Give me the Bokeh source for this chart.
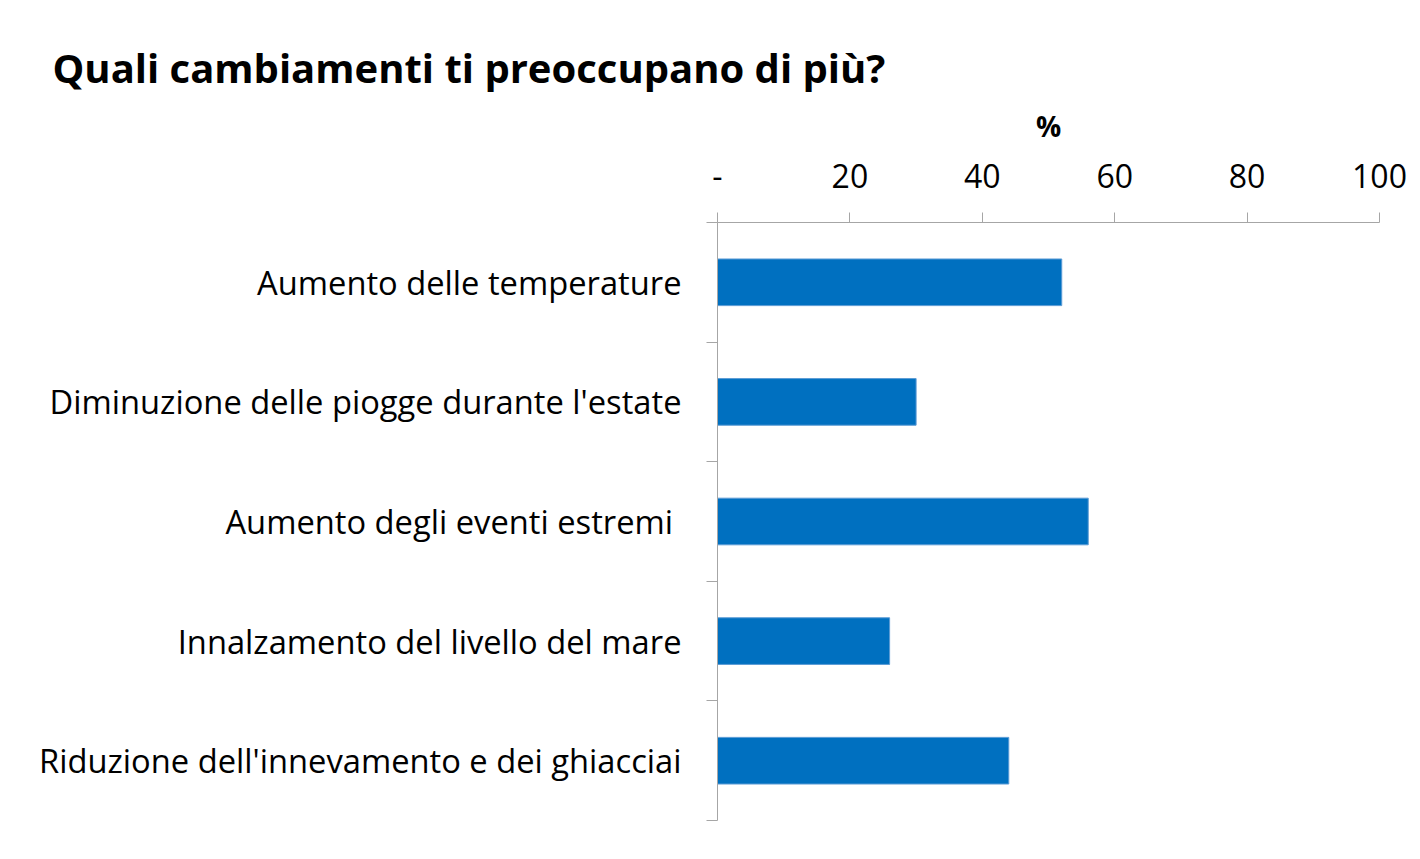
from bokeh.plotting import figure
from bokeh.models import Range1d, FixedTicker, CustomJSTickFormatter, ColumnDataSource
from bokeh.embed import file_html
from bokeh.resources import INLINE

categories = [
    "Aumento delle temperature",
    "Diminuzione delle piogge durante l'estate",
    "Aumento degli eventi estremi\u00a0",
    "Innalzamento del livello del mare",
    "Riduzione dell'innevamento e dei ghiacciai",
]
values = [52, 30, 56, 26, 44]
x_ticks = [0, 20, 40, 60, 80, 100]

FONT = "Open Sans"
GREY = "#A6A6A6"

ypos = [i + 0.5 for i in range(len(categories))]
src = ColumnDataSource(dict(y=ypos, v=values, cat=categories))

p = figure(width=1412, height=851, output_backend="svg", toolbar_location=None,
           x_range=Range1d(0, 100), y_range=Range1d(len(categories), 0),
           x_axis_location="above", title="Quali cambiamenti ti preoccupano di più?",
           min_border_left=717, min_border_right=33, min_border_bottom=31, min_border_top=222)
p.hbar(y="y", left=0, right="v", height=0.39, source=src,
       fill_color="#0070C0", line_color="#5B9BD5", line_width=1)

p.title.text_font = FONT
p.title.text_font_style = "bold"
p.title.text_font_size = "40px"
p.title.offset = -665
p.title.standoff = 18
p.title.text_color = "#000000"

p.outline_line_color = None
p.grid.visible = False

xa = p.xaxis[0]
xa.ticker = FixedTicker(ticks=x_ticks)
xa.formatter = CustomJSTickFormatter(code="return tick == 0 ? '-' : tick.toString();")
xa.axis_label = "%"
xa.axis_label_text_font = FONT
xa.axis_label_text_font_style = "bold"
xa.axis_label_text_font_size = "28px"
xa.axis_label_text_color = "#000000"
xa.axis_label_standoff = 16
xa.major_label_text_font = FONT
xa.major_label_text_font_size = "32px"
xa.major_label_text_color = "#000000"
xa.major_label_standoff = 25
xa.axis_line_color = GREY
xa.major_tick_line_color = GREY
xa.major_tick_out = 10
xa.major_tick_in = 0
xa.minor_tick_line_color = None

ya = p.yaxis[0]
ya.ticker = FixedTicker(ticks=ypos, minor_ticks=list(range(len(categories) + 1)))
ya.formatter = CustomJSTickFormatter(args=dict(cats=categories),
                                     code="return cats[Math.floor(tick)];")
ya.major_label_text_font = FONT
ya.major_label_text_font_size = "32.7px"
ya.major_label_text_color = "#000000"
ya.major_label_standoff = 25
ya.major_tick_line_color = None
ya.major_tick_out = 0
ya.minor_tick_line_color = GREY
ya.minor_tick_out = 11
ya.minor_tick_in = 0
ya.axis_line_color = GREY

open("out.html", "w").write(file_html(p, INLINE))
